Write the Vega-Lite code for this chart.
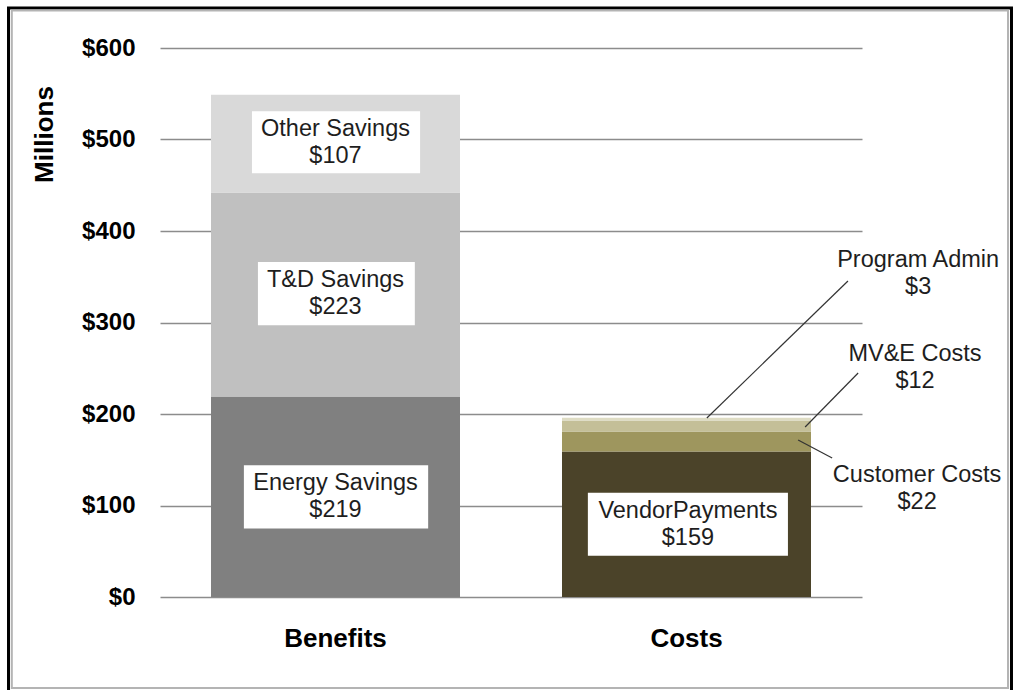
{
  "$schema": "https://vega.github.io/schema/vega-lite/v6.json",
  "width": 702,
  "height": 549,
  "autosize": {"type": "none"},
  "padding": {"left": 160, "top": 48, "right": 153, "bottom": 93},
  "background": "white",
  "config": {"view": {"stroke": null}, "font": "Liberation Sans"},
  "datasets": {
    "bars": [
      {"cat": "Benefits", "item": "Energy Savings", "value": 219, "ord": 1},
      {"cat": "Benefits", "item": "T&D Savings", "value": 223, "ord": 2},
      {"cat": "Benefits", "item": "Other Savings", "value": 107, "ord": 3},
      {"cat": "Costs", "item": "VendorPayments", "value": 159, "ord": 1},
      {"cat": "Costs", "item": "Customer Costs", "value": 22, "ord": 2},
      {"cat": "Costs", "item": "MV&E Costs", "value": 12, "ord": 3},
      {"cat": "Costs", "item": "Program Admin", "value": 3, "ord": 4}
    ],
    "boxes": [
      {"label": "Other Savings\n$107", "x0": 0.262, "x1": 0.741, "y0": 463, "y1": 531, "tx": 0.5, "ty": 497},
      {"label": "T&D Savings\n$223", "x0": 0.279, "x1": 0.726, "y0": 297, "y1": 366, "tx": 0.5, "ty": 331.5},
      {"label": "Energy Savings\n$219", "x0": 0.239, "x1": 0.764, "y0": 75, "y1": 144, "tx": 0.5, "ty": 109.5},
      {"label": "VendorPayments\n$159", "x0": 1.219, "x1": 1.789, "y0": 45, "y1": 114, "tx": 1.504, "ty": 79}
    ],
    "callouts": [
      {"label": "Program Admin\n$3", "tx": 2.16, "ty": 353.6, "lx": 1.558, "ly": 195.6, "lx2": 1.96, "ly2": 345.4},
      {"label": "MV&E Costs\n$12", "tx": 2.151, "ty": 250.5, "lx": 1.838, "ly": 185.8, "lx2": 1.989, "ly2": 244.8},
      {"label": "Customer Costs\n$22", "tx": 2.157, "ty": 118.6, "lx": 1.818, "ly": 171.6, "lx2": 1.915, "ly2": 151.9}
    ],
    "frame": [
      {"x0": -0.4316, "x1": 2.4259, "y0": -110, "y1": 643.7, "kind": "outer"},
      {"x0": -0.4222, "x1": 2.416, "y0": -99.5, "y1": 641.0, "kind": "inner"}
    ]
  },
  "layer": [
    {
      "data": {"name": "bars"},
      "mark": {"type": "bar"},
      "encoding": {
        "x": {
          "field": "cat", "type": "nominal", "sort": ["Benefits", "Costs"],
          "scale": {"paddingInner": 0.2906, "paddingOuter": 0.1453},
          "axis": {
            "title": null, "domain": false, "ticks": false, "labelAngle": 0,
            "labelPadding": 28, "labelFontSize": 26, "labelFontWeight": "bold",
            "labelColor": "#000000", "labelFont": "Liberation Sans"
          }
        },
        "y": {
          "field": "value", "type": "quantitative", "stack": "zero",
          "scale": {"domain": [0, 600], "nice": false},
          "axis": {
            "title": "Millions", "values": [0, 100, 200, 300, 400, 500, 600],
            "labelExpr": "'$' + datum.value",
            "domain": false, "ticks": false, "labelPadding": 25,
            "labelFontSize": 24, "labelFontWeight": "bold", "labelColor": "#000000",
            "labelFont": "Liberation Sans",
            "gridColor": "#8c8c8c", "gridWidth": 1.5,
            "titleFont": "Liberation Sans", "titleFontSize": 26, "titleFontWeight": "bold",
            "titleColor": "#000000", "titleX": -108, "titleY": 86, "titleAlign": "center",
            "titleBaseline": "alphabetic", "titleAngle": 270
          }
        },
        "color": {
          "field": "item", "type": "nominal", "legend": null,
          "scale": {
            "domain": ["Energy Savings", "T&D Savings", "Other Savings", "VendorPayments", "Customer Costs", "MV&E Costs", "Program Admin"],
            "range": ["#808080", "#c0c0c0", "#d9d9d9", "#4b4329", "#9e965e", "#c4bf98", "#dedcc4"]
          }
        },
        "order": {"field": "ord", "type": "quantitative"}
      }
    },
    {
      "data": {"name": "boxes"},
      "mark": {"type": "rect", "fill": "#ffffff"},
      "encoding": {
        "x": {"field": "x0", "type": "quantitative", "scale": {"domain": [0, 2], "nice": false, "zero": false}, "axis": null},
        "x2": {"field": "x1"},
        "y": {"field": "y0", "type": "quantitative", "scale": {"domain": [0, 600], "nice": false}},
        "y2": {"field": "y1"}
      }
    },
    {
      "data": {"name": "boxes"},
      "mark": {"type": "text", "font": "Liberation Sans", "fontSize": 23.5, "color": "#1e1e1e", "align": "center", "baseline": "middle", "lineBreak": "\n", "lineHeight": 27, "dy": -13.5},
      "encoding": {
        "x": {"field": "tx", "type": "quantitative", "scale": {"domain": [0, 2], "nice": false, "zero": false}, "axis": null},
        "y": {"field": "ty", "type": "quantitative", "scale": {"domain": [0, 600], "nice": false}},
        "text": {"field": "label"}
      }
    },
    {
      "data": {"name": "callouts"},
      "mark": {"type": "rule", "color": "#333333", "strokeWidth": 1.2},
      "encoding": {
        "x": {"field": "lx", "type": "quantitative", "scale": {"domain": [0, 2], "nice": false, "zero": false}, "axis": null},
        "x2": {"field": "lx2"},
        "y": {"field": "ly", "type": "quantitative", "scale": {"domain": [0, 600], "nice": false}},
        "y2": {"field": "ly2"}
      }
    },
    {
      "data": {"name": "callouts"},
      "mark": {"type": "text", "font": "Liberation Sans", "fontSize": 23.5, "color": "#1e1e1e", "align": "center", "baseline": "middle", "lineBreak": "\n", "lineHeight": 27, "dy": -13.5},
      "encoding": {
        "x": {"field": "tx", "type": "quantitative", "scale": {"domain": [0, 2], "nice": false, "zero": false}, "axis": null},
        "y": {"field": "ty", "type": "quantitative", "scale": {"domain": [0, 600], "nice": false}},
        "text": {"field": "label"}
      }
    },
    {
      "data": {"name": "frame"},
      "mark": {"type": "rect", "fill": null, "filled": false},
      "encoding": {
        "x": {"field": "x0", "type": "quantitative", "scale": {"domain": [0, 2], "nice": false, "zero": false}, "axis": null},
        "x2": {"field": "x1"},
        "y": {"field": "y0", "type": "quantitative", "scale": {"domain": [0, 600], "nice": false}},
        "y2": {"field": "y1"},
        "stroke": {"field": "kind", "type": "nominal", "legend": null, "scale": {"domain": ["outer", "inner"], "range": ["#000000", "#b4b4b4"]}},
        "strokeWidth": {"field": "kind", "type": "nominal", "legend": null, "scale": {"domain": ["outer", "inner"], "range": [3, 2]}}
      }
    }
  ],
  "resolve": {"scale": {"x": "independent"}}
}
